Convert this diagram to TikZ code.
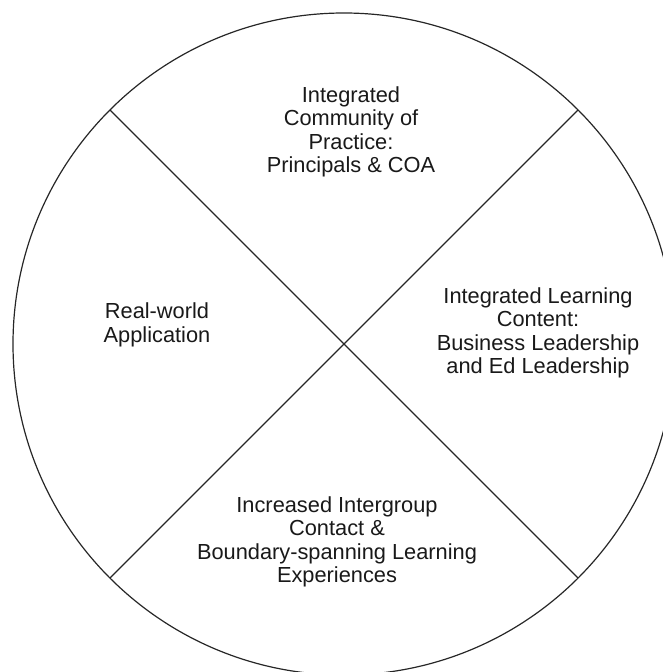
\documentclass[tikz,border=0pt]{standalone}
\usepackage{fontspec}
\setmainfont{Liberation Sans}
\begin{document}
\begin{tikzpicture}[x=1pt,y=-1pt,
  rim/.style={draw=black!85,line width=1.2pt},
  divider/.style={draw=black!85,line width=1.1pt},
  label/.style={align=center,inner sep=0pt,text=black!90,
    font=\fontsize{21.8}{23.3}\selectfont}]
  \useasboundingbox (0,0) rectangle (663,672);
  \clip (0,0) rectangle (663,672);
  % the wheel and its two diagonals
  \coordinate (c) at (344,344);
  \draw[rim] (c) circle[radius=331];
  \coordinate (ul) at (110,110);
  \coordinate (ur) at (578,110);
  \coordinate (ll) at (110,578);
  \coordinate (lr) at (578,578);
  \draw[divider] (ul) -- (lr);
  \draw[divider] (ur) -- (ll);
  % quadrant labels
  \node[label] (top) at (351,132) {Integrated\\Community of\\Practice:\\Principals \& COA};
  \node[label] (left) at (157,325) {Real-world\\Application};
  \node[label] (right) at (538,333) {Integrated Learning\\Content:\\Business Leadership\\and Ed Leadership};
  \node[label] (bottom) at (337,542) {Increased Intergroup\\Contact \&\\Boundary-spanning Learning\\Experiences};
\end{tikzpicture}
\end{document}
